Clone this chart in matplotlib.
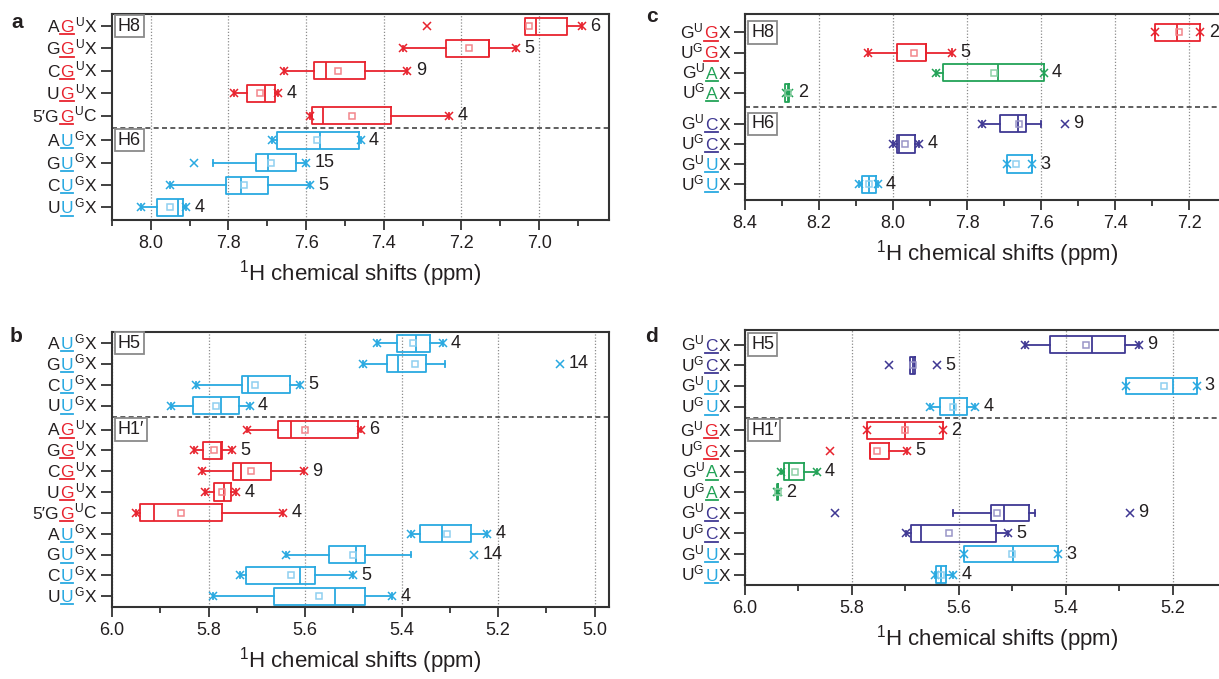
import matplotlib
matplotlib.use("Agg")
import matplotlib.pyplot as plt
from matplotlib.offsetbox import TextArea, HPacker, AnnotationBbox
from matplotlib.ticker import MultipleLocator, FormatStrFormatter
from matplotlib.lines import Line2D

plt.rcParams["font.family"] = ["Liberation Sans", "DejaVu Sans"]
plt.rcParams["mathtext.fontset"] = "custom"
plt.rcParams["mathtext.rm"] = "Liberation Sans"
plt.rcParams["mathtext.it"] = "Liberation Sans:italic"
plt.rcParams["mathtext.bf"] = "Liberation Sans:bold"

TXT = "#231f20"
COLORS = {"r": "#E8232E", "b": "#29A9E1", "g": "#22A257", "p": "#3F3893"}
LIGHT = {"r": "#F2868C", "b": "#8FD0F0", "g": "#8ED0A6", "p": "#9A96C8"}
SU = r"$^{\rm U}$"
SG = r"$^{\rm G}$"

# ---- panel a : H8 / H6 ----
a_pre = ["A", "G", "C", "U", "5\u2032G", "A", "G", "C", "U"]
a_mid = ["G", "G", "G", "G", "G", "U", "U", "U", "U"]
a_post = [SU + "X", SU + "X", SU + "X", SU + "X", SU + "C", SG + "X", SG + "X", SG + "X", SG + "X"]
a_col = ["r", "r", "r", "r", "r", "b", "b", "b", "b"]
a_q1 = [6.927, 7.128, 7.449, 7.679, 7.382, 7.465, 7.625, 7.699, 7.916]
a_med = [7.009, 7.130, 7.549, 7.705, 7.556, 7.565, 7.699, 7.769, 7.930]
a_q3 = [7.037, 7.239, 7.580, 7.753, 7.585, 7.675, 7.730, 7.807, 7.984]
a_mean = [7.027, 7.180, 7.517, 7.719, 7.483, 7.571, 7.690, 7.761, 7.950]
a_wlo = [6.889, 7.060, 7.339, 7.672, 7.232, 7.460, 7.600, 7.591, 7.909]
a_whi = [7.037, 7.350, 7.656, 7.785, 7.589, 7.689, 7.840, 7.951, 8.026]
a_min = [6.889, 7.060, 7.339, 7.672, 7.232, 7.460, 7.600, 7.591, 7.909]
a_max = [7.290, 7.350, 7.656, 7.785, 7.589, 7.689, 7.889, 7.951, 8.026]
a_n = [6, 5, 9, 4, 4, 4, 15, 5, 4]

# ---- panel b : H5 / H1' ----
b_pre = ["A", "G", "C", "U", "A", "G", "C", "U", "5\u2032G", "A", "G", "C", "U"]
b_mid = ["U", "U", "U", "U", "G", "G", "G", "G", "G", "U", "U", "U", "U"]
b_post = [SG + "X"] * 4 + [SU + "X"] * 4 + [SU + "C"] + [SG + "X"] * 4
b_col = ["b"] * 4 + ["r"] * 5 + ["b"] * 4
b_q1 = [5.341, 5.350, 5.631, 5.737, 5.490, 5.771, 5.670, 5.754, 5.771, 5.255, 5.475, 5.580, 5.476]
b_med = [5.370, 5.407, 5.719, 5.774, 5.630, 5.774, 5.732, 5.768, 5.912, 5.316, 5.495, 5.611, 5.537]
b_q3 = [5.410, 5.430, 5.730, 5.833, 5.655, 5.811, 5.750, 5.789, 5.941, 5.361, 5.550, 5.723, 5.665]
b_mean = [5.377, 5.372, 5.703, 5.785, 5.601, 5.788, 5.711, 5.772, 5.856, 5.306, 5.501, 5.630, 5.572]
b_wlo = [5.315, 5.309, 5.611, 5.715, 5.485, 5.751, 5.602, 5.743, 5.646, 5.223, 5.381, 5.501, 5.420]
b_whi = [5.450, 5.480, 5.825, 5.877, 5.720, 5.830, 5.813, 5.808, 5.951, 5.381, 5.639, 5.735, 5.791]
b_min = [5.315, 5.071, 5.611, 5.715, 5.485, 5.751, 5.602, 5.743, 5.646, 5.223, 5.250, 5.501, 5.420]
b_max = [5.450, 5.480, 5.825, 5.877, 5.720, 5.830, 5.813, 5.808, 5.951, 5.381, 5.639, 5.735, 5.791]
b_n = [4, 14, 5, 4, 6, 5, 9, 4, 4, 4, 14, 5, 4]

# ---- panel c : H8 / H6 ----
c_pre = ["G" + SU, "U" + SG, "G" + SU, "U" + SG, "G" + SU, "U" + SG, "G" + SU, "U" + SG]
c_mid = ["G", "G", "A", "A", "C", "C", "U", "U"]
c_post = ["X"] * 8
c_col = ["r", "r", "g", "g", "p", "p", "b", "b"]
c_q1 = [7.170, 7.911, 7.593, 8.280, 7.640, 7.940, 7.624, 8.045]
c_med = [7.232, 7.911, 7.716, 8.285, 7.662, 7.984, 7.624, 8.065]
c_q3 = [7.292, 7.990, 7.864, 8.291, 7.711, 7.989, 7.691, 8.085]
c_mean = [7.227, 7.943, 7.728, 8.285, 7.660, 7.967, 7.669, 8.064]
c_wlo = [7.170, 7.841, 7.593, 8.280, 7.601, 7.930, 7.624, 8.042]
c_whi = [7.292, 8.068, 7.885, 8.291, 7.759, 8.001, 7.691, 8.091]
c_min = [7.170, 7.841, 7.593, 8.282, 7.535, 7.930, 7.624, 8.042]
c_max = [7.292, 8.068, 7.885, 8.288, 7.759, 8.001, 7.691, 8.091]
c_n = [2, 5, 4, 2, 9, 4, 3, 4]

# ---- panel d : H5 / H1' ----
d_pre = ["G" + SU, "U" + SG, "G" + SU, "U" + SG, "G" + SU, "U" + SG, "G" + SU, "U" + SG,
         "G" + SU, "U" + SG, "G" + SU, "U" + SG]
d_mid = ["C", "C", "U", "U", "G", "G", "A", "A", "C", "C", "U", "U"]
d_post = ["X"] * 12
d_col = ["p", "p", "b", "b", "r", "r", "g", "g", "p", "p", "b", "b"]
d_q1 = [5.290, 5.682, 5.156, 5.585, 5.630, 5.731, 5.889, 5.938, 5.470, 5.530, 5.414, 5.625]
d_med = [5.351, 5.686, 5.200, 5.610, 5.700, 5.766, 5.918, 5.939, 5.516, 5.671, 5.499, 5.634]
d_q3 = [5.430, 5.691, 5.288, 5.636, 5.772, 5.766, 5.928, 5.940, 5.540, 5.690, 5.591, 5.643]
d_mean = [5.362, 5.686, 5.217, 5.611, 5.700, 5.754, 5.907, 5.939, 5.528, 5.619, 5.500, 5.633]
d_wlo = [5.264, 5.682, 5.156, 5.570, 5.630, 5.698, 5.866, 5.938, 5.457, 5.508, 5.414, 5.611]
d_whi = [5.477, 5.691, 5.288, 5.654, 5.772, 5.766, 5.932, 5.940, 5.611, 5.699, 5.591, 5.645]
d_min = [5.264, 5.641, 5.156, 5.570, 5.630, 5.698, 5.866, 5.938, 5.280, 5.508, 5.414, 5.611]
d_max = [5.477, 5.731, 5.288, 5.654, 5.772, 5.841, 5.932, 5.940, 5.831, 5.699, 5.591, 5.645]
d_n = [9, 5, 3, 4, 2, 5, 4, 2, 9, 5, 3, 4]

fig = plt.figure(figsize=(12.19, 6.79), dpi=100)
W, H = 1219.0, 679.0
FS = 12.5


def add_axes(left, right, top, bottom):
    return fig.add_axes([left / W, 1 - bottom / H, (right - left) / W, (bottom - top) / H])


underlines = []


def draw_panel(ax, pos, pre, mid, post, col, q1, med, q3, mean, wlo, whi, mn, mx, n,
               sections, dash_y, xlim, ylim, bh):
    for i, y in enumerate(pos):
        c = COLORS[col[i]]
        lc = LIGHT[col[i]]
        st = dict(q1=q1[i], med=med[i], q3=q3[i], mean=mean[i],
                  whislo=wlo[i], whishi=whi[i], fliers=[mn[i], mx[i]])
        ax.bxp([st], positions=[y], widths=bh, orientation="horizontal",
               showmeans=True, showfliers=True, manage_ticks=False, capwidths=bh * 0.35,
               boxprops=dict(color=c, lw=1.3), whiskerprops=dict(color=c, lw=1.3),
               capprops=dict(color=c, lw=1.3), medianprops=dict(color=c, lw=1.3),
               meanprops=dict(marker="s", mfc="none", mec=lc, ms=5, mew=1.1),
               flierprops=dict(marker="x", mec=c, ms=6, mew=1.1))
        ax.annotate(str(n[i]), xy=(min(mn[i], wlo[i]), y), xytext=(6, 0),
                    textcoords="offset points", va="center", ha="left",
                    fontsize=13, color=TXT, annotation_clip=False)
        # composite tick label with coloured, underlined nucleotide
        kw = dict(fontsize=FS, color=TXT)
        mid_ta = TextArea(mid[i], textprops=dict(fontsize=FS, color=c))
        pack = HPacker(children=[TextArea(pre[i], textprops=kw), mid_ta,
                                 TextArea(post[i], textprops=kw)],
                       align="baseline", pad=0, sep=0.6)
        ab = AnnotationBbox(pack, (0, y), xycoords=ax.get_yaxis_transform(),
                            xybox=(-10.5, 0), boxcoords="offset points",
                            box_alignment=(1, 0.45), frameon=False, pad=0,
                            annotation_clip=False)
        ax.add_artist(ab)
        underlines.append((mid_ta, c))

    for name, y in sections:
        ax.text(0.012, y, name, transform=ax.get_yaxis_transform(), fontsize=13,
                color=TXT, va="center", ha="left",
                bbox=dict(boxstyle="square,pad=0.15", fc="white", ec="#8a8a8a", lw=1.3))
    ax.axhline(dash_y, color="#444444", lw=1.2, ls=(0, (3, 2)))

    ax.set_xlim(*xlim)
    ax.set_ylim(*ylim)
    ax.set_yticks(pos)
    ax.set_yticklabels([])
    ax.xaxis.set_major_locator(MultipleLocator(0.2))
    ax.xaxis.set_minor_locator(MultipleLocator(0.1))
    ax.xaxis.set_major_formatter(FormatStrFormatter("%.1f"))
    ax.grid(axis="x", which="major", ls=(0, (1, 1.5)), color="#8c8c8c", lw=0.9)
    ax.set_axisbelow(True)
    ax.tick_params(axis="x", which="major", direction="out", length=7, width=1.3,
                   color="#333333", labelsize=13, labelcolor=TXT)
    ax.tick_params(axis="y", which="major", direction="out", length=8, width=1.3,
                   color="#333333")
    ax.tick_params(axis="x", which="minor", direction="out", length=4, width=1.3,
                   color="#333333")
    for sp in ax.spines.values():
        sp.set_linewidth(1.5)
        sp.set_color("#333333")
    ax.set_xlabel(r"$^{\rm 1}$H chemical shifts (ppm)", fontsize=16, color=TXT, labelpad=5)


ax_a = add_axes(112, 609, 14, 220)
draw_panel(ax_a, [0, 1, 2, 3, 4, 5.1, 6.1, 7.1, 8.1], a_pre, a_mid, a_post, a_col,
           a_q1, a_med, a_q3, a_mean, a_wlo, a_whi, a_min, a_max, a_n,
           [("H8", 0), ("H6", 5.1)], 4.55, (8.1, 6.82), (8.66, -0.54), 0.76)

ax_b = add_axes(112, 609, 332, 607)
draw_panel(ax_b, [0, 1, 2, 3, 4.15, 5.15, 6.15, 7.15, 8.15, 9.15, 10.15, 11.15, 12.15],
           b_pre, b_mid, b_post, b_col,
           b_q1, b_med, b_q3, b_mean, b_wlo, b_whi, b_min, b_max, b_n,
           [("H5", 0), ("H1\u2032", 4.15)], 3.57, (6.0, 4.97), (12.67, -0.53), 0.82)

# panels c and d continue past the right edge of the picture (cropped original)
ax_c = add_axes(745, 1250, 14, 200)
draw_panel(ax_c, [0, 1, 2, 3, 4.53, 5.53, 6.53, 7.53], c_pre, c_mid, c_post, c_col,
           c_q1, c_med, c_q3, c_mean, c_wlo, c_whi, c_min, c_max, c_n,
           [("H8", 0), ("H6", 4.53)], 3.69, (8.4, 7.036), (8.31, -0.91), 0.86)

ax_d = add_axes(745, 1250, 330, 585)
draw_panel(ax_d, [0, 1, 2, 3, 4.15, 5.15, 6.15, 7.15, 8.15, 9.15, 10.15, 11.15],
           d_pre, d_mid, d_post, d_col,
           d_q1, d_med, d_q3, d_mean, d_wlo, d_whi, d_min, d_max, d_n,
           [("H5", 0), ("H1\u2032", 4.15)], 3.55, (6.0, 5.056), (11.65, -0.71), 0.8)

for letter, x, y in [("a", 17, 22), ("b", 16, 336), ("c", 652, 16), ("d", 651, 336)]:
    fig.text(x / W, 1 - y / H, letter, fontsize=15, fontweight="bold", color=TXT,
             ha="center", va="center")

# underline the coloured nucleotide of each row label
fig.canvas.draw()
renderer = fig.canvas.get_renderer()
inv = fig.transFigure.inverted()
for ta, c in underlines:
    bb = ta.get_window_extent(renderer)
    (x0, y0), (x1, _) = inv.transform([(bb.x0, bb.y0 + 0.8), (bb.x1, bb.y0 + 0.8)])
    fig.add_artist(Line2D([x0, x1], [y0, y0], transform=fig.transFigure, color=c, lw=1.3))

fig.savefig("out.png", dpi=100)
